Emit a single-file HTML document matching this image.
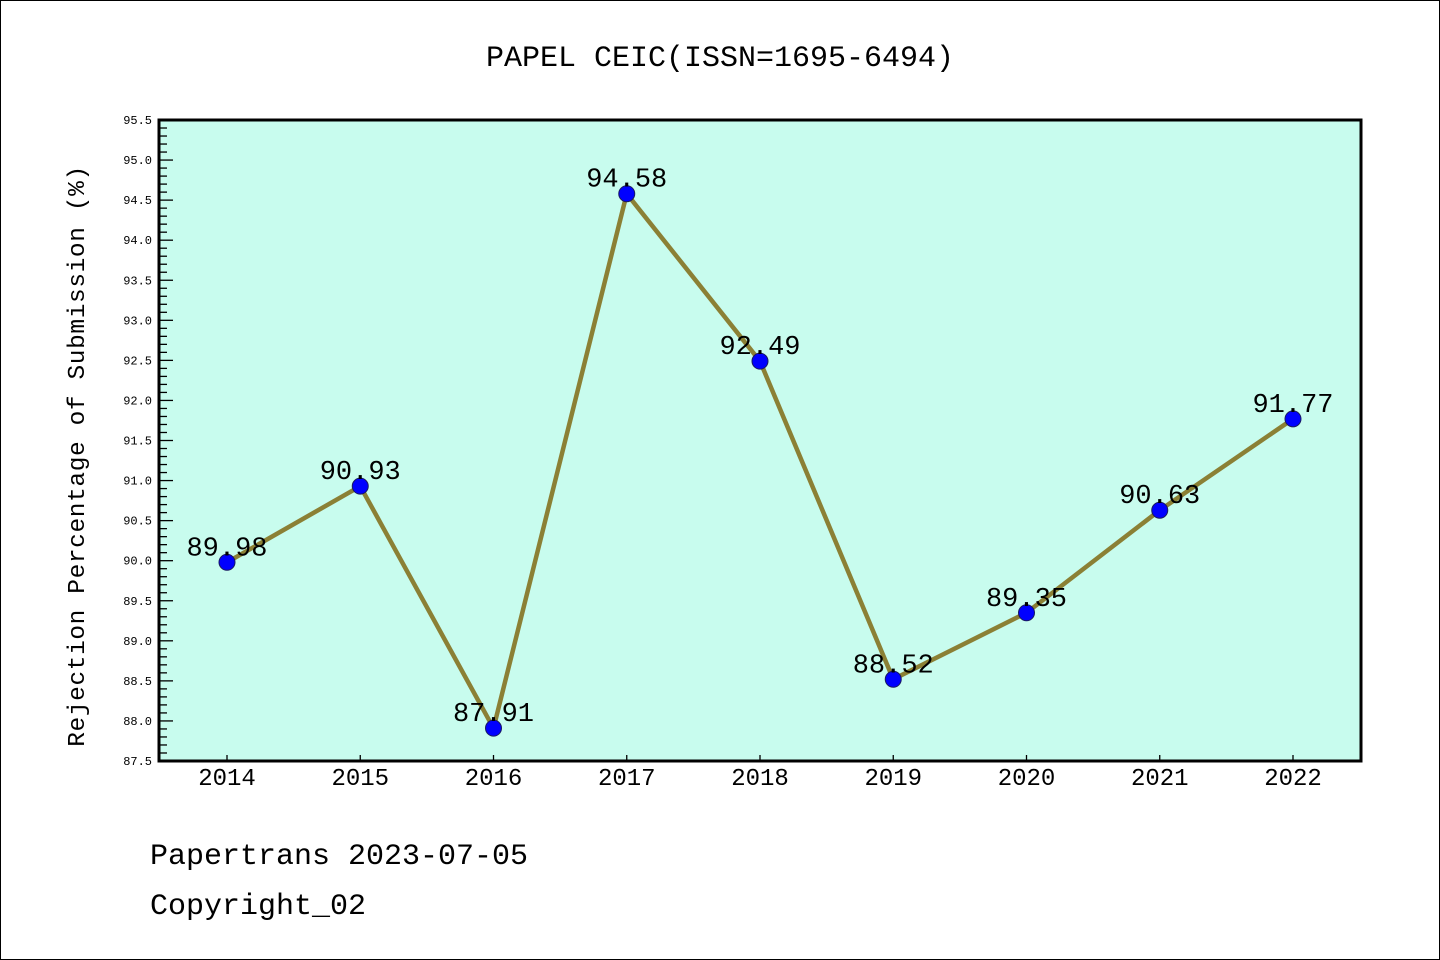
<!DOCTYPE html>
<html><head><meta charset="utf-8"><style>
body{margin:0;background:#fff}
svg{display:block}
text{font-family:"Liberation Mono","DejaVu Sans Mono","Noto Sans CJK SC",monospace}
</style></head><body>
<svg width="1440" height="960" xmlns="http://www.w3.org/2000/svg" id="c">
<rect x="0.5" y="0.5" width="1439" height="959" fill="#fff" stroke="#000"/>
<text x="720" y="66" font-size="30" text-anchor="middle">PAPEL CEIC(ISSN=1695-6494)</text>
<rect x="159" y="120" width="1202" height="641" fill="#c8fcee"/>
<g id="ticks"></g>
<g id="series"></g>
<rect x="159" y="120" width="1202" height="641" fill="none" stroke="#000" stroke-width="3"/>
<text transform="translate(84,456) rotate(-90)" font-size="24.5" letter-spacing="0.6" text-anchor="middle">Rejection Percentage of Submission (%)</text>
<text x="150" y="864" font-size="30">Papertrans 2023-07-05</text>
<text x="150" y="914" font-size="30">Copyright_02</text>
</svg>
<script>
const years=[2014,2015,2016,2017,2018,2019,2020,2021,2022];
const values=[89.98,90.93,87.91,94.58,92.49,88.52,89.35,90.63,91.77];
const yTicks=[87.5,88.0,88.5,89.0,89.5,90.0,90.5,91.0,91.5,92.0,92.5,93.0,93.5,94.0,94.5,95.0,95.5];
const NS='http://www.w3.org/2000/svg';
const x0=159,x1=1361,y0=761,y1=120,yMin=87.5,yMax=95.5;
const xs=i=>227+i*(1293-227)/(years.length-1);
const ys=v=>y0-(v-yMin)/(yMax-yMin)*(y0-y1);
function mk(t,a,p){const e=document.createElementNS(NS,t);for(const k in a)e.setAttribute(k,a[k]);p.appendChild(e);return e;}
const tg=document.getElementById('ticks'),sg=document.getElementById('series');
for(let k=0;k<=80;k++){const v=yMin+k*0.1;const y=ys(v);const major=k%5===0;
 const l=mk('line',{x1:x0,x2:x0+(major?14:8),y1:y,y2:y,stroke:'#000','stroke-width':1.3},tg);
 }
yTicks.forEach(v=>{const t=mk('text',{x:152,y:ys(v)+4,'font-size':12,'text-anchor':'end','font-family':'Liberation Sans, sans-serif'},tg);t.textContent=v.toFixed(1);
 });
years.forEach((yr,i)=>{const l=mk('line',{x1:xs(i),x2:xs(i),y1:y0,y2:y0-6,stroke:'#000','stroke-width':1.3},tg);
 
 const t=mk('text',{x:xs(i),y:785,'font-size':24,'text-anchor':'middle','font-family':'Liberation Sans, sans-serif'},tg);t.textContent=yr;
 });
const pl=mk('polyline',{points:values.map((v,i)=>xs(i)+','+ys(v)).join(' '),fill:'none',stroke:'#8b8035','stroke-width':4.5,'stroke-linejoin':'round'},sg);

values.forEach((v,i)=>{const c=mk('circle',{cx:xs(i),cy:ys(v),r:8,fill:'#0000ff',stroke:'#1a1a60','stroke-width':1},sg);
 
 const t=mk('text',{x:xs(i),y:ys(v)-7,'font-size':27,'text-anchor':'middle','font-family':'Liberation Sans, sans-serif'},sg);t.textContent=v.toFixed(2);
 });
</script>
</body></html>
